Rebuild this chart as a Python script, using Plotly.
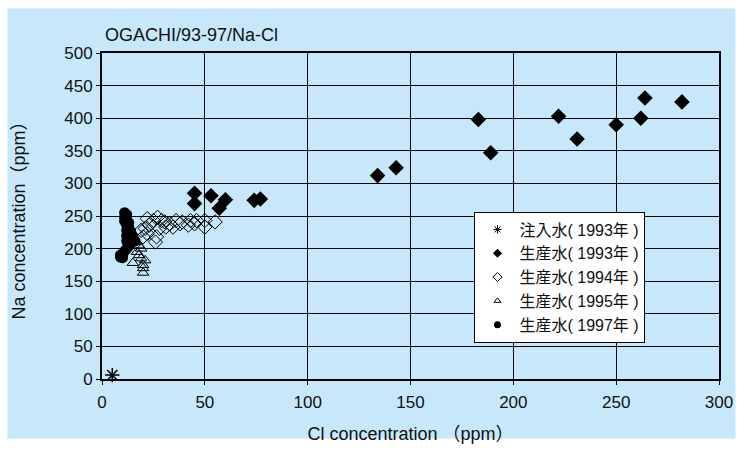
import plotly.graph_objects as go

# ---- data ----
inj93_x = [5]
inj93_y = [6]

prod93_x = [45, 45, 53, 57, 60, 74, 77, 134, 143, 183, 189, 222, 231, 250, 262, 264, 282]
prod93_y = [285, 269, 281, 262, 275, 274, 276, 312, 324, 398, 347, 403, 368, 390, 400, 431, 425]

prod94_x = [55, 50, 50, 46, 45, 42, 38, 36, 33, 30.5, 29, 27, 25, 22, 23, 21, 19, 22, 20, 26, 26.5, 28, 31, 34.5, 39, 43]
prod94_y = [241, 243, 233, 243, 238, 236, 238, 243, 238, 241, 243, 248, 243, 246, 236, 231, 228, 223, 218, 210, 218, 231, 233, 233, 241, 243]

prod95_x = [15, 17, 18, 19, 19, 20, 20, 20, 18, 16, 21]
prod95_y = [178, 195, 190, 185, 200, 175, 170, 163, 205, 210, 182]

prod97_x = [11, 12, 11, 12, 13, 12, 13, 12, 13, 14, 13, 12, 14, 15, 13, 12, 11, 10, 9, 9, 10, 14, 15, 16, 12, 11]
prod97_y = [255, 252, 248, 244, 240, 236, 232, 228, 224, 220, 216, 212, 208, 213, 204, 200, 196, 192, 190, 187, 186, 226, 218, 212, 220, 242]

legend_names = ["注入水( 1993年 )", "生産水( 1993年 )", "生産水( 1994年 )", "生産水( 1995年 )", "生産水( 1997年 )"]

x_ticks = [0, 50, 100, 150, 200, 250, 300]
y_ticks = [0, 50, 100, 150, 200, 250, 300, 350, 400, 450, 500]

BLUE = "#c6e8fa"
FONT = "Liberation Sans, Arial, Noto Sans CJK JP, sans-serif"

fig = go.Figure()

series = [
    (inj93_x, inj93_y, dict(symbol="asterisk-open", size=12, color="black", line=dict(color="black", width=1.5)), dict(symbol="asterisk-open", size=7, color="black", line=dict(color="black", width=1))),
    (prod93_x, prod93_y, dict(symbol="diamond", size=12, color="black"), dict(symbol="diamond", size=7, color="black")),
    (prod94_x, prod94_y, dict(symbol="diamond-open", size=11, color="black", line=dict(color="black", width=1)), dict(symbol="diamond-open", size=7, color="black", line=dict(color="black", width=1))),
    (prod95_x, prod95_y, dict(symbol="triangle-up-open", size=10, color="black", line=dict(color="black", width=1)), dict(symbol="triangle-up-open", size=6, color="black", line=dict(color="black", width=1))),
    (prod97_x, prod97_y, dict(symbol="circle", size=11, color="black"), dict(symbol="circle", size=7, color="black")),
]

for (xs, ys, mk, lmk), name in zip(series, legend_names):
    fig.add_trace(go.Scatter(x=xs, y=ys, mode="markers", marker=mk, showlegend=False, cliponaxis=False))
for (xs, ys, mk, lmk), name in zip(series, legend_names):
    fig.add_trace(go.Scatter(x=[None], y=[None], mode="markers", marker=lmk, name=name, showlegend=True))

L, R, T, B = 102, 23.5, 53, 71
W, H = 745, 453
pw, ph = W - L - R, H - T - B

def px2paper_x(px):
    return (px - L) / pw

def px2paper_y(py):
    return (H - B - py) / ph

fig.add_shape(type="rect", xref="paper", yref="paper", layer="below",
              x0=px2paper_x(7), x1=px2paper_x(738), y0=px2paper_y(442), y1=px2paper_y(8),
              fillcolor=BLUE, line=dict(width=0))

fig.add_annotation(text="OGACHI/93-97/Na-Cl", xref="paper", yref="paper",
                   x=px2paper_x(103), y=px2paper_y(35), xanchor="left", yanchor="middle",
                   showarrow=False, font=dict(family=FONT, size=18, color="#111"))

axis_common = dict(showgrid=True, gridcolor="black", gridwidth=1, showline=True, linecolor="black",
                   linewidth=2, mirror=True, ticks="outside", ticklen=4, tickcolor="black",
                   zeroline=False, tickfont=dict(family=FONT, size=17, color="#111"))

fig.update_layout(
    width=W, height=H,
    margin=dict(l=L, r=R, t=T, b=B),
    paper_bgcolor="white", plot_bgcolor="white",
    font=dict(family=FONT, size=17, color="#111"),
    xaxis=dict(range=[0, 300], tickvals=x_ticks, ticklabelstandoff=3,
               title=dict(text="Cl concentration （ppm）", standoff=16, font=dict(size=18)), **axis_common),
    yaxis=dict(range=[0, 500], tickvals=y_ticks,
               title=dict(text="Na concentration（ppm）", standoff=34, font=dict(size=18)), **axis_common),
    legend=dict(x=px2paper_x(476), y=px2paper_y(213), xanchor="left", yanchor="top",
                bgcolor="white", bordercolor="black", borderwidth=1,
                font=dict(family=FONT, size=16, color="#111"), tracegroupgap=0, itemwidth=34),
)

fig.write_html("out.html")
